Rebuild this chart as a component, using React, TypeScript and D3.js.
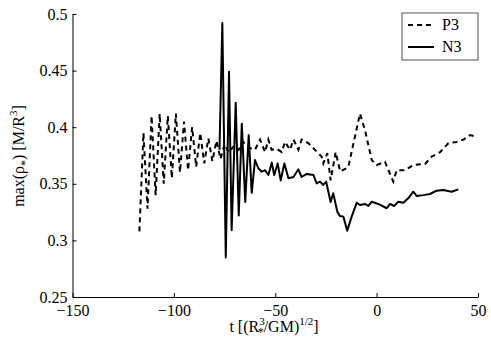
import React, { useEffect, useRef } from 'react';
import * as d3 from 'd3';

// P3 (dashed) — time and max density
const p3T = [-117, -115, -113, -111, -109, -107, -105, -103, -101, -99, -97, -95, -93, -91, -89, -87, -85, -83, -81, -79, -77, -75, -73,
  -70, -68, -65.8, -63, -60, -57.5, -55, -53.4, -51.8, -49.3, -46.8, -45.2, -42.7, -41, -38.6, -37, -33.7, -30.4, -27.1, -26.3, -24.3,
  -22.7, -20.2, -18, -14, -8.2, -5.7, -2.4, 0, 4.1, 8.2, 9.9, 14, 18.1, 23.9, 27.2, 31.3, 35.4, 39.5, 42.8, 46, 49.7];
const p3V = [0.308, 0.395, 0.328, 0.41, 0.34, 0.412, 0.35, 0.41, 0.355, 0.412, 0.36, 0.405, 0.362, 0.4, 0.365, 0.395, 0.368, 0.39, 0.37, 0.388, 0.372, 0.385, 0.378,
  0.384, 0.38, 0.387, 0.382, 0.38, 0.389, 0.378, 0.389, 0.38, 0.381, 0.378, 0.387, 0.38, 0.389, 0.38, 0.389, 0.386, 0.38, 0.374, 0.368, 0.377,
  0.353, 0.378, 0.361, 0.3646, 0.412, 0.397, 0.371, 0.3666, 0.3695, 0.352, 0.362, 0.362, 0.3666, 0.3675, 0.374, 0.378, 0.3858, 0.387, 0.389, 0.393, 0.3916];

// N3 (solid)
const n3T = [-77.5, -76.1, -74.4, -72.8, -71.5, -69.5, -68, -66.5, -64.8, -63.1, -61.6, -60, -58.3, -56.7, -55, -53.4, -51.7, -50.5, -48.8,
  -47.3, -45.5, -43.5, -41, -38.6, -37, -34.5, -31.2, -29.6, -27.9, -26.3, -24.9, -22.7, -21.4, -19.4, -18.1, -16.4, -14.5, -12.3, -9.8,
  -8.2, -5.7, -4.1, -2.4, 0.8, 5, 6.6, 8.6, 10.7, 13.2, 15.6, 18.1, 19.8, 23, 26.3, 29.6, 32.9, 37, 40.3];
const n3V = [0.38, 0.492, 0.285, 0.449, 0.309, 0.4216, 0.322, 0.403, 0.334, 0.393, 0.342, 0.371, 0.3637, 0.3607, 0.362, 0.3578, 0.3687, 0.3578, 0.368,
  0.353, 0.368, 0.3549, 0.356, 0.3628, 0.356, 0.3587, 0.3578, 0.3504, 0.3519, 0.349, 0.352, 0.334, 0.3416, 0.3254, 0.3216, 0.321, 0.3086, 0.321, 0.3333,
  0.3313, 0.3322, 0.3304, 0.3342, 0.3322, 0.3284, 0.3322, 0.3304, 0.3342, 0.3333, 0.3372, 0.343, 0.3392, 0.34, 0.341, 0.3439, 0.3445, 0.343, 0.3451];

const xTicks = [-150, -100, -50, 0, 50];
const yTicks = [0.25, 0.3, 0.35, 0.4, 0.45, 0.5];
const seriesNames = ['P3', 'N3'];

const W = 491;
const H = 346;
const FONT = 'Liberation Serif, Times New Roman, serif';

export default function App() {
  const ref = useRef<SVGSVGElement>(null);

  useEffect(() => {
    const svg = d3.select(ref.current);
    svg.selectAll('*').remove();

    const left = 72.5, right = 478, top = 14, bottom = 297;
    const x = d3.scaleLinear().domain([-150, 50]).range([left, right]);
    const y = d3.scaleLinear().domain([0.25, 0.5]).range([bottom, top]);

    const xAxis = d3.axisBottom(x).tickValues(xTicks).tickSizeInner(-4).tickSizeOuter(0).tickPadding(8);
    const yAxis = d3.axisLeft(y).tickValues(yTicks).tickSizeInner(-4).tickSizeOuter(0).tickPadding(5)
      .tickFormat((d: any) => String(+(+d).toFixed(2)));

    const gx = svg.append('g').attr('transform', `translate(0,${bottom})`).call(xAxis as any);
    const gy = svg.append('g').attr('transform', `translate(${left},0)`).call(yAxis as any);
    [gx, gy].forEach(g => {
      g.attr('font-family', FONT).attr('font-size', 16);
      g.selectAll('text').attr('font-family', FONT).attr('font-size', 16).attr('fill', '#000');
      g.selectAll('line').attr('stroke', '#000');
      g.select('.domain').attr('stroke', '#000');
    });

    const line = d3.line<[number, number]>().x(d => x(d[0])).y(d => y(d[1]));
    const p3 = p3T.map((t, i) => [t, p3V[i]] as [number, number]);
    const n3 = n3T.map((t, i) => [t, n3V[i]] as [number, number]);

    svg.append('path').attr('d', line(p3)).attr('fill', 'none').attr('stroke', '#000')
      .attr('stroke-width', 2).attr('stroke-dasharray', '5,4');
    svg.append('path').attr('d', line(n3)).attr('fill', 'none').attr('stroke', '#000')
      .attr('stroke-width', 2).attr('stroke-linejoin', 'round');

    // legend
    const lg = svg.append('g');
    lg.append('rect').attr('x', 402).attr('y', 13).attr('width', 76).attr('height', 47)
      .attr('fill', '#fff').attr('stroke', '#555').attr('stroke-width', 1);
    seriesNames.forEach((name, i) => {
      const ly = 25 + i * 22;
      lg.append('line').attr('x1', 408).attr('x2', 434).attr('y1', ly).attr('y2', ly)
        .attr('stroke', '#000').attr('stroke-width', 2).attr('stroke-dasharray', i === 0 ? '5,4' : null);
      lg.append('text').attr('x', 442).attr('y', ly + 5).attr('font-family', FONT).attr('font-size', 16).text(name);
    });

    // x label
    const xl = svg.append('text').attr('x', 274).attr('y', 332).attr('text-anchor', 'middle')
      .attr('font-family', FONT).attr('font-size', 16);
    xl.append('tspan').text('t [(R');
    xl.append('tspan').attr('dy', -7).attr('font-size', 11).text('3');
    xl.append('tspan').attr('dx', -7).attr('dy', 11).attr('font-size', 12).text('*');
    xl.append('tspan').attr('dy', -4).text('/GM)');
    xl.append('tspan').attr('dy', -7).attr('font-size', 11).text('1/2');
    xl.append('tspan').attr('dy', 7).text(']');

    // y label
    const yl = svg.append('text').attr('transform', 'translate(24,156) rotate(-90)').attr('text-anchor', 'middle')
      .attr('font-family', FONT).attr('font-size', 16);
    yl.append('tspan').text('max(ρ');
    yl.append('tspan').attr('dy', 5).attr('font-size', 12).text('*');
    yl.append('tspan').attr('dy', -5).text(') [M/R');
    yl.append('tspan').attr('dy', -7).attr('font-size', 11).text('3');
    yl.append('tspan').attr('dy', 7).text(']');
  }, []);

  return (
    <svg ref={ref} width={W} height={H} style={{ position: 'absolute', left: 0, top: 0, background: '#fff' }} />
  );
}
